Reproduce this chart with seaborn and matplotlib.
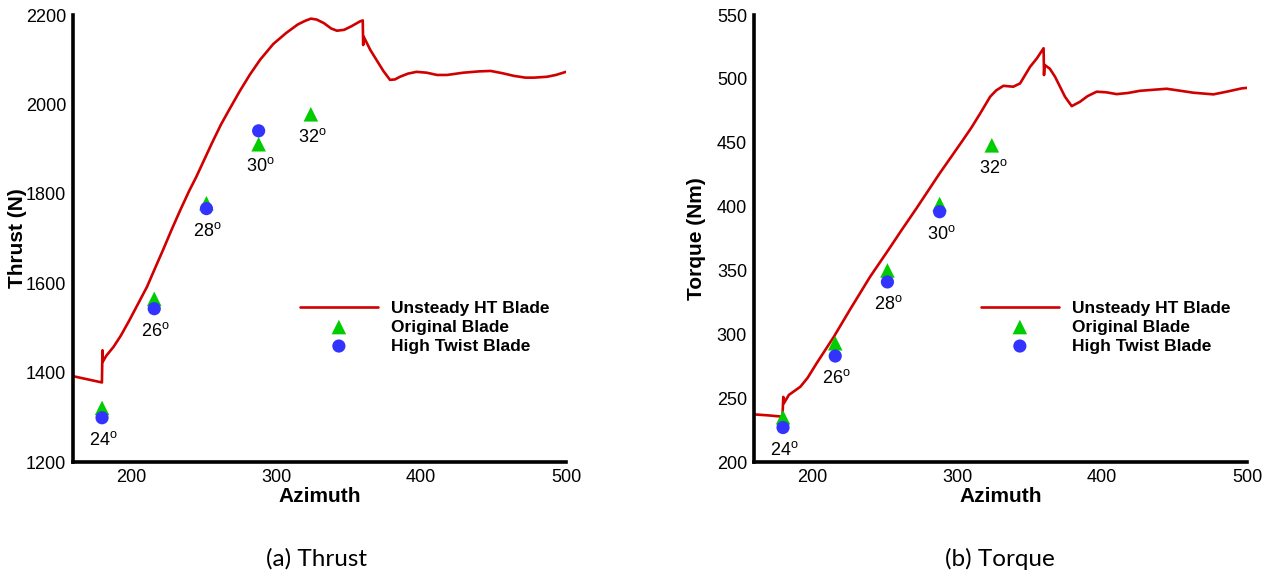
import matplotlib.pyplot as plt
import seaborn as sns
from matplotlib.ticker import MultipleLocator

# blade pitch settings and where they were sampled
PITCH_AZIMUTH = [180, 216, 252, 288, 324]
PITCH_LABELS = ["24", "26", "28", "30", "32"]

THRUST_ORIGINAL = [1321, 1565, 1779, 1911, 1978]
THRUST_HIGH_TWIST = [1299, 1543, 1767, 1941]
TORQUE_ORIGINAL = [235, 293, 350, 402, 448]
TORQUE_HIGH_TWIST = [227, 283, 341, 396]

# unsteady high-twist run
THRUST_CURVE_AZ = [160, 170, 179.9, 180.3, 180.6, 183, 188, 193, 199, 205, 211, 217,
                   222, 228, 234, 240, 245, 250, 256, 262, 268, 275, 282, 289, 298,
                   307, 315, 320, 324, 328, 333, 338, 342, 347, 352, 358, 359.8,
                   360.1, 360.4, 365, 369.4, 374, 378.6, 382, 385.5, 391, 397, 404,
                   411, 418, 429, 440, 448, 456, 464, 472, 478, 487, 493, 500]
THRUST_CURVE = [1392, 1385, 1378, 1450, 1425, 1438, 1458, 1483, 1518, 1555, 1592, 1637,
                1674, 1720, 1764, 1806, 1838, 1873, 1915, 1955, 1990, 2030, 2067, 2100,
                2135, 2160, 2179, 2187, 2192, 2190, 2182, 2170, 2165, 2167, 2175, 2186,
                2188, 2133, 2152, 2122, 2099, 2075, 2055, 2056, 2062, 2069, 2073, 2071,
                2066, 2066, 2071, 2074, 2075, 2070, 2064, 2060, 2060, 2062, 2066, 2073]

TORQUE_CURVE_AZ = [160, 170, 179.6, 180.2, 180.6, 184, 192, 197, 203, 209, 215, 226,
                   240, 252.6, 262, 272, 288, 296, 304, 310, 316, 322.8, 327, 332,
                   338.8, 343.5, 350.4, 355, 359.7, 360.0, 360.4, 364, 367.6, 374.5,
                   379.1, 384.8, 390, 396.3, 403, 410.1, 418, 426.2, 444.6, 463,
                   476.8, 486, 496.4, 500]
TORQUE_CURVE = [237.3, 236.5, 235.5, 251, 246, 252.5, 259, 266, 277, 287.5, 298, 319,
                345, 366, 382, 398.6, 426, 439, 452, 462, 473, 486, 491, 494.6,
                493.9, 496.5, 509.5, 516, 524, 503, 511, 508, 501.7, 486,
                478.7, 482.1, 486.5, 490, 489.5, 488.1, 489, 490.7, 492.3, 489.2,
                487.9, 490, 492.6, 493]

RED = "#d10000"
GREEN = "#00cc00"
BLUE = "#3333ff"

sns.set_style("white")
plt.rcParams.update({
    "font.family": ["Liberation Sans", "DejaVu Sans"],
    "mathtext.fontset": "custom",
    "mathtext.rm": "Liberation Sans",
    "text.color": "black",
    "axes.labelcolor": "black",
    "xtick.color": "black",
    "ytick.color": "black",
})

fig = plt.figure(figsize=(12.66, 5.73), dpi=100)
ax_t = fig.add_axes([0.0577, 0.1937, 0.3894, 0.780])
ax_q = fig.add_axes([0.5956, 0.1937, 0.3894, 0.780])

panels = [
    (ax_t, THRUST_CURVE_AZ, THRUST_CURVE, THRUST_ORIGINAL, THRUST_HIGH_TWIST,
     "Thrust (N)", (1200, 2200), 200, 50, -1),
    (ax_q, TORQUE_CURVE_AZ, TORQUE_CURVE, TORQUE_ORIGINAL, TORQUE_HIGH_TWIST,
     "Torque (Nm)", (200, 550), 50, 10, 8),
]

for ax, cx, cy, orig, ht, ylabel, ylim, major, minor, lpad in panels:
    sns.lineplot(x=cx, y=cy, sort=False, estimator=None, color=RED, linewidth=1.9,
                 ax=ax, label="Unsteady HT Blade")
    sns.scatterplot(x=PITCH_AZIMUTH[:len(orig)], y=orig, marker="^", s=110, color=GREEN,
                    edgecolor="none", ax=ax, label="Original Blade", zorder=3)
    sns.scatterplot(x=PITCH_AZIMUTH[:len(ht)], y=ht, marker="o", s=90, color=BLUE,
                    edgecolor="none", ax=ax, label="High Twist Blade", zorder=4)

    # pitch angle labels under the lower marker of each pair
    for i, az in enumerate(PITCH_AZIMUTH):
        low = orig[i] if i >= len(ht) else min(orig[i], ht[i])
        ax.annotate(PITCH_LABELS[i] + r"$^{\rm o}$", (az, low), xytext=(1, -16),
                    textcoords="offset points", ha="center", va="center", fontsize=13)

    ax.set_xlim(160, 500)
    ax.set_ylim(*ylim)
    ax.xaxis.set_major_locator(MultipleLocator(100))
    ax.xaxis.set_minor_locator(MultipleLocator(20))
    ax.yaxis.set_major_locator(MultipleLocator(major))
    ax.yaxis.set_minor_locator(MultipleLocator(minor))
    ax.tick_params(which="both", direction="in", labelsize=13, pad=5)
    ax.tick_params(which="major", length=8, width=1.6, color="black")
    ax.tick_params(which="minor", length=5.5, width=0.8, color="#555555")

    sns.despine(ax=ax)
    for side in ("left", "bottom"):
        ax.spines[side].set_linewidth(2.6)
        ax.spines[side].set_color("black")

    ax.set_xlabel("Azimuth", fontsize=15, fontweight="bold", labelpad=1)
    ax.set_ylabel(ylabel, fontsize=15, fontweight="bold", labelpad=lpad)

    ax.legend(loc="center left", bbox_to_anchor=(0.46, 0.302), frameon=False,
              borderpad=0, borderaxespad=0, handlelength=4.5, handletextpad=0.75,
              labelspacing=0.22, prop={"weight": "bold", "size": 12.5})

fig.text(0.25, 0.024, "(a) Thrust", ha="center", va="center", fontsize=17.5, family="Lato")
fig.text(0.79, 0.024, "(b) Torque", ha="center", va="center", fontsize=17.5, family="Lato")

fig.savefig("out.png", dpi=100)
